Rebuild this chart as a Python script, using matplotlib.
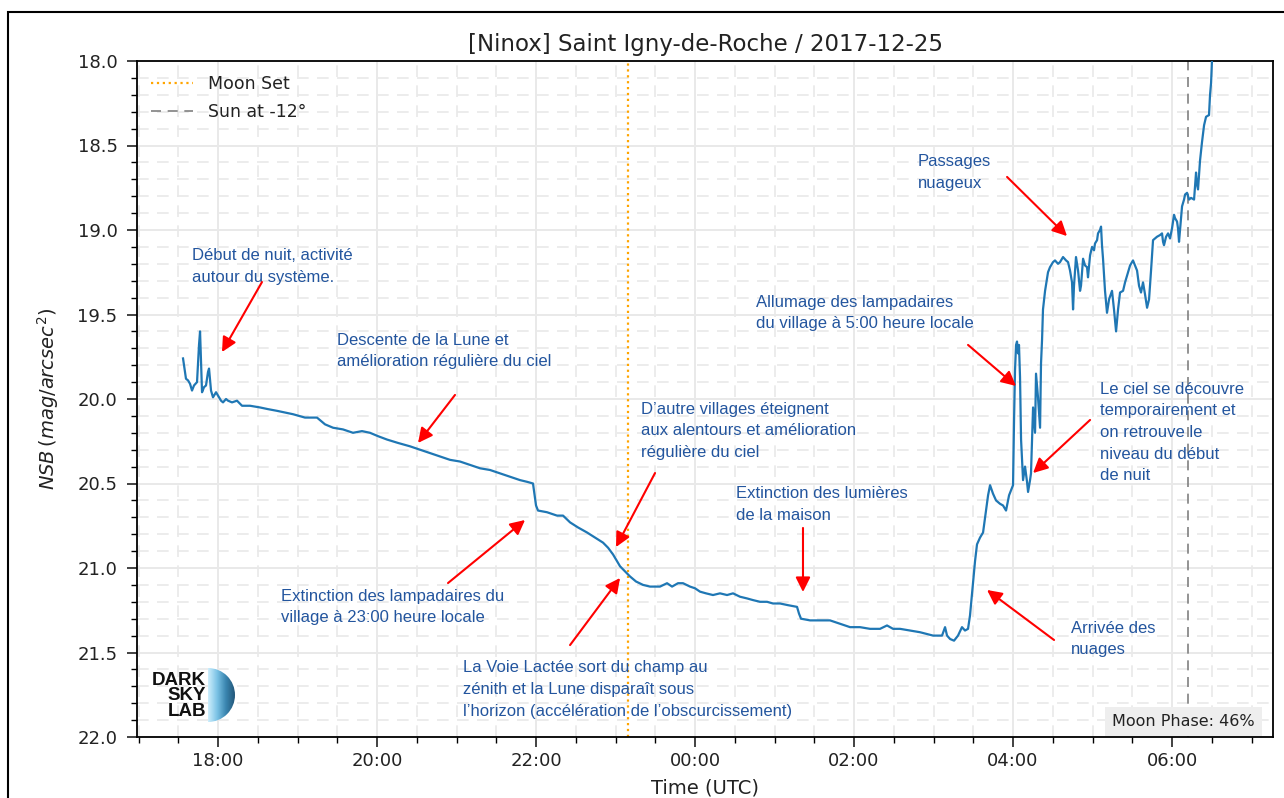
import matplotlib
matplotlib.use("Agg")
import matplotlib.pyplot as plt
import matplotlib.dates as mdates
from matplotlib.patches import Rectangle, Wedge
from matplotlib.colors import LinearSegmentedColormap
import numpy as np
from datetime import datetime, timedelta

# heures UTC relatives a minuit du 25/12 (negatif = soir du 24)
heures = [
    -6.440, -6.403, -6.377, -6.352, -6.327, -6.302, -6.264, -6.239, -6.226, -6.214,
    -6.201, -6.176, -6.151, -6.126, -6.113, -6.088, -6.063, -6.025, -6.000, -5.962,
    -5.937, -5.899, -5.874, -5.824, -5.761, -5.698, -5.597, -5.472, -5.371, -5.258,
    -5.157, -5.057, -4.906, -4.755, -4.654, -4.553, -4.428, -4.302, -4.189, -4.088,
    -3.987, -3.874, -3.736, -3.585, -3.459, -3.333, -3.208, -3.082, -2.956, -2.830,
    -2.704, -2.579, -2.453, -2.327, -2.201, -2.113, -2.038, -2.000, -1.975, -1.862,
    -1.736, -1.660, -1.572, -1.472, -1.358, -1.258, -1.157, -1.094, -1.031, -0.981,
    -0.943, -0.881, -0.818, -0.742, -0.654, -0.566, -0.440, -0.352, -0.289, -0.214,
    -0.151, -0.063, 0.000, 0.063, 0.138, 0.226, 0.314, 0.403, 0.478, 0.566,
    0.654, 0.730, 0.818, 0.906, 0.981, 1.069, 1.170, 1.283, 1.308, 1.333,
    1.447, 1.572, 1.698, 1.824, 1.950, 2.075, 2.201, 2.327, 2.415, 2.491,
    2.579, 2.704, 2.830, 2.994, 3.107, 3.145, 3.170, 3.208, 3.258, 3.308,
    3.358, 3.396, 3.434, 3.459, 3.497, 3.522, 3.547, 3.585, 3.623, 3.660,
    3.686, 3.711, 3.748, 3.786, 3.836, 3.874, 3.912, 3.950, 3.975, 4.000,
    4.013, 4.025, 4.038, 4.050, 4.063, 4.075, 4.088, 4.101, 4.126, 4.151,
    4.176, 4.189, 4.214, 4.226, 4.252, 4.277, 4.289, 4.314, 4.340, 4.352,
    4.365, 4.377, 4.403, 4.440, 4.465, 4.503, 4.528, 4.566, 4.591, 4.629,
    4.667, 4.692, 4.717, 4.742, 4.755, 4.767, 4.792, 4.818, 4.843, 4.855,
    4.881, 4.906, 4.931, 4.943, 4.969, 4.994, 5.019, 5.031, 5.057, 5.069,
    5.094, 5.107, 5.119, 5.132, 5.157, 5.182, 5.208, 5.245, 5.270, 5.296,
    5.321, 5.346, 5.384, 5.409, 5.447, 5.472, 5.509, 5.535, 5.560, 5.585,
    5.610, 5.635, 5.660, 5.686, 5.711, 5.736, 5.761, 5.786, 5.811, 5.849,
    5.874, 5.887, 5.899, 5.925, 5.950, 5.975, 6.000, 6.025, 6.038, 6.063,
    6.075, 6.088, 6.101, 6.126, 6.151, 6.164, 6.189, 6.214, 6.239, 6.277,
    6.302, 6.314, 6.327, 6.352, 6.377, 6.403, 6.428, 6.465, 6.478, 6.491,
    6.503, 6.528,
]
nsb = [
    19.76, 19.88, 19.89, 19.91, 19.95, 19.92, 19.90, 19.68, 19.60, 19.77,
    19.96, 19.93, 19.92, 19.84, 19.82, 19.95, 19.99, 19.96, 19.98, 20.01,
    20.02, 20.00, 20.01, 20.02, 20.01, 20.04, 20.04, 20.05, 20.06, 20.07,
    20.08, 20.09, 20.11, 20.11, 20.15, 20.17, 20.18, 20.20, 20.19, 20.20,
    20.22, 20.24, 20.26, 20.28, 20.30, 20.32, 20.34, 20.36, 20.37, 20.39,
    20.41, 20.42, 20.44, 20.46, 20.48, 20.49, 20.50, 20.63, 20.66, 20.67,
    20.69, 20.69, 20.73, 20.76, 20.79, 20.82, 20.85, 20.88, 20.92, 20.96,
    20.99, 21.02, 21.05, 21.08, 21.10, 21.11, 21.11, 21.09, 21.11, 21.09,
    21.09, 21.11, 21.12, 21.14, 21.15, 21.16, 21.15, 21.16, 21.15, 21.17,
    21.18, 21.19, 21.20, 21.20, 21.21, 21.21, 21.22, 21.23, 21.27, 21.30,
    21.31, 21.31, 21.31, 21.33, 21.35, 21.35, 21.36, 21.36, 21.34, 21.36,
    21.36, 21.37, 21.38, 21.40, 21.40, 21.35, 21.40, 21.42, 21.43, 21.40,
    21.35, 21.37, 21.36, 21.28, 21.09, 20.96, 20.86, 20.82, 20.79, 20.66,
    20.57, 20.51, 20.56, 20.60, 20.62, 20.63, 20.66, 20.57, 20.54, 20.51,
    20.12, 19.83, 19.68, 19.66, 19.73, 19.68, 19.87, 20.24, 20.48, 20.40,
    20.49, 20.55, 20.48, 20.44, 20.05, 20.20, 19.85, 19.99, 20.17, 19.79,
    19.65, 19.47, 19.36, 19.25, 19.22, 19.19, 19.18, 19.20, 19.19, 19.16,
    19.18, 19.19, 19.24, 19.31, 19.47, 19.33, 19.16, 19.24, 19.36, 19.33,
    19.17, 19.21, 19.22, 19.28, 19.15, 19.10, 19.12, 19.08, 19.06, 19.02,
    19.00, 18.98, 19.09, 19.17, 19.36, 19.49, 19.41, 19.36, 19.47, 19.60,
    19.47, 19.37, 19.36, 19.31, 19.25, 19.21, 19.18, 19.21, 19.24, 19.33,
    19.37, 19.31, 19.38, 19.46, 19.41, 19.24, 19.06, 19.05, 19.04, 19.03,
    19.02, 19.07, 19.09, 19.04, 19.02, 19.05, 18.99, 18.91, 18.93, 18.95,
    18.99, 19.07, 19.00, 18.86, 18.82, 18.79, 18.78, 18.82, 18.81, 18.82,
    18.66, 18.73, 18.76, 18.59, 18.48, 18.38, 18.33, 18.32, 18.20, 18.13,
    17.99, 17.85,
]

moon_set = -0.843      # 23:09 UTC
sun_moins_12 = 6.201   # 06:12 UTC
moon_phase = 46

# annotations : texte, position du texte, queue et pointe de la fleche (heure, mag)
notes = [
    ("Début de nuit, activité\nautour du système.", (-6.327, 19.216), (-5.447, 19.308), (-5.950, 19.722)),
    ("Descente de la Lune et\namélioration régulière du ciel", (-4.503, 19.716), (-3.019, 19.976), (-3.484, 20.260)),
    ("D’autre villages éteignent\naux alentours et amélioration\nrégulière du ciel", (-0.679, 20.189), (-0.503, 20.438), (-0.994, 20.876)),
    ("Extinction des lampadaires du\nvillage à 23:00 heure locale", (-5.208, 21.231), (-3.107, 21.089), (-2.138, 20.716)),
    ("La Voie Lactée sort du champ au\nzénith et la Lune disparaît sous\nl’horizon (accélération de l’obscurcissement)", (-2.918, 21.719), (-1.572, 21.456), (-0.943, 21.059)),
    ("Extinction des lumières\nde la maison", (0.516, 20.624), (1.358, 20.763), (1.358, 21.142)),
    ("Allumage des lampadaires\ndu village à 5:00 heure locale", (0.767, 19.491), (3.434, 19.680), (4.038, 19.923)),
    ("Passages\nnuageux", (2.805, 18.660), (3.925, 18.686), (4.679, 19.036)),
    ("Le ciel se découvre\ntemporairement et\non retrouve le\nniveau du début\nde nuit", (5.094, 20.198), (4.969, 20.124), (4.252, 20.438)),
    ("Arrivée des\nnuages", (4.730, 21.420), (4.516, 21.426), (3.673, 21.130)),
]

minuit = datetime(2017, 12, 25)
def to_dt(h):
    return minuit + timedelta(hours=h)

temps = [to_dt(h) for h in heures]

fig = plt.figure(figsize=(12.84, 7.98), dpi=100)
ax = fig.add_axes([137/1284, 1 - 737/798, (1273-137)/1284, (737-61)/798])

ax.plot(temps, nsb, color='#1f77b4', lw=1.6, zorder=3)
ax.axvline(to_dt(moon_set), color='orange', ls=':', lw=1.6, label='Moon Set')
ax.axvline(to_dt(sun_moins_12), color='gray', ls='--', lw=1.2, dashes=(6, 4), label='Sun at -12°')

ax.set_xlim(to_dt(-7.019), to_dt(7.270))
ax.set_ylim(22, 18)
ax.xaxis.set_major_locator(mdates.HourLocator(byhour=range(0, 24, 2)))
ax.xaxis.set_minor_locator(mdates.MinuteLocator(byminute=[0, 30]))
ax.xaxis.set_major_formatter(mdates.DateFormatter('%H:%M'))
ax.yaxis.set_major_locator(matplotlib.ticker.MultipleLocator(0.5))
ax.yaxis.set_minor_locator(matplotlib.ticker.MultipleLocator(0.1))
ax.yaxis.set_major_formatter(matplotlib.ticker.FormatStrFormatter('%.1f'))
ax.tick_params(which='major', labelsize=13, length=7, width=1.2, colors='#222222', pad=4)
ax.tick_params(axis='y', which='major', pad=7)
ax.tick_params(which='minor', length=4, width=1)
for s in ax.spines.values():
    s.set_linewidth(1.3)

ax.grid(which='major', color='#e9e9e9', lw=1.4, zorder=0)
ax.grid(which='minor', color='#e9e9e9', lw=1.2, ls='--', dashes=(7, 5), zorder=0)
ax.set_axisbelow(True)

ax.set_title('[Ninox] Saint Igny-de-Roche / 2017-12-25', fontsize=16.5, color='#222222', pad=7)
ax.set_xlabel('Time (UTC)', fontsize=14, color='#222222', labelpad=6)
ax.set_ylabel(r'$NSB\,(mag/arcsec^2)$', fontsize=14, color='#222222', labelpad=12)

leg = ax.legend(loc='upper left', frameon=False, fontsize=12.5, handlelength=2.4,
                borderaxespad=0.4, labelspacing=0.6, handletextpad=0.9)
for t in leg.get_texts():
    t.set_color('#222222')

for texte, pos, queue, pointe in notes:
    ax.text(to_dt(pos[0]), pos[1], texte, fontsize=12, color='#23559e', va='center', ha='left',
            family=['Liberation Sans', 'DejaVu Sans'], linespacing=1.55, zorder=5)
    ax.annotate('', xy=(to_dt(pointe[0]), pointe[1]), xytext=(to_dt(queue[0]), queue[1]),
                arrowprops=dict(arrowstyle='-|>', color='red', lw=1.5, mutation_scale=22,
                                shrinkA=0, shrinkB=0), zorder=6)

ax.text(0.984, 0.012, 'Moon Phase: %d%%' % moon_phase, transform=ax.transAxes, ha='right', va='bottom',
        fontsize=11.5, color='#222222', zorder=7,
        bbox=dict(facecolor='#eeeeee', edgecolor='none', boxstyle='square,pad=0.45'))

# logo Dark Sky Lab
fig.text(206/1284, 1 - 696/798, 'DARK\nSKY\nLAB', ha='right', va='center', fontsize=13.5,
         fontweight='bold', family=['Liberation Sans', 'DejaVu Sans'], linespacing=0.92, color='#111111')
logo = fig.add_axes([208/1284, 1 - 722/798, 27/1284, 54/798])
logo.set_xlim(0, 1)
logo.set_ylim(-1, 1)
logo.axis('off')
cmap = LinearSegmentedColormap.from_list('dsl', ['#cdeefc', '#7cc3e6', '#3a86b0', '#23577a'])
img = logo.imshow(np.linspace(0, 1, 64).reshape(1, -1), extent=[0, 1, -1, 1], aspect='auto', cmap=cmap)
wedge = Wedge((0, 0), 1, -90, 90, transform=logo.transData, facecolor='none', edgecolor='none')
logo.add_patch(wedge)
img.set_clip_path(wedge)

# cadre de la capture
fig.patches.append(Rectangle((8/1284, -0.5), 2, 1.5 - 12/798, transform=fig.transFigure,
                             fill=False, edgecolor='black', lw=1.5))

fig.savefig('out.png', dpi=100)
